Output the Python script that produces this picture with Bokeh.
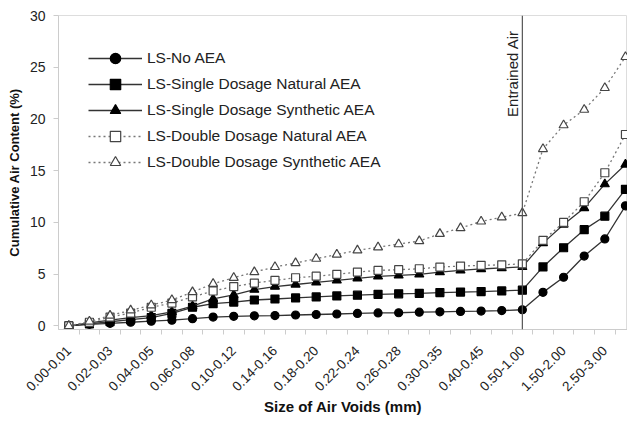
import math
from bokeh.plotting import figure
from bokeh.models import Range1d, FixedTicker, Span, Legend, LegendItem, Label
from bokeh.embed import file_html
from bokeh.resources import INLINE

categories = ["0.00-0.01", "0.01-0.02", "0.02-0.03", "0.03-0.04", "0.04-0.05", "0.05-0.06",
              "0.06-0.08", "0.08-0.10", "0.10-0.12", "0.12-0.14", "0.14-0.16", "0.16-0.18",
              "0.18-0.20", "0.20-0.22", "0.22-0.24", "0.24-0.26", "0.26-0.28", "0.28-0.30",
              "0.30-0.35", "0.35-0.40", "0.40-0.45", "0.45-0.50", "0.50-1.00", "1.00-1.50",
              "1.50-2.00", "2.00-2.50", "2.50-3.00", "3.00-4.00"]

no_aea = [0, 0.15, 0.25, 0.35, 0.45, 0.55, 0.7, 0.85, 0.92, 0.97, 1.0, 1.05, 1.1, 1.15,
          1.2, 1.25, 1.27, 1.32, 1.36, 1.4, 1.43, 1.48, 1.56, 3.24, 4.7, 6.75, 8.4, 11.6]
single_natural = [0, 0.2, 0.4, 0.6, 0.8, 1.2, 1.8, 2.15, 2.3, 2.5, 2.6, 2.7, 2.8, 2.9,
                  2.97, 3.05, 3.1, 3.15, 3.22, 3.27, 3.32, 3.38, 3.45, 5.7, 7.55, 9.3, 10.6, 13.2]
single_synthetic = [0, 0.3, 0.55, 0.8, 1.0, 1.35, 1.9, 2.6, 3.0, 3.5, 3.8, 4.0, 4.2, 4.4,
                    4.6, 4.78, 4.88, 4.98, 5.2, 5.36, 5.5, 5.6, 5.7, 8.0, 9.8, 11.4, 13.7, 15.6]
double_natural = [0, 0.35, 0.85, 1.24, 1.8, 2.2, 2.8, 3.37, 3.8, 4.14, 4.4, 4.65, 4.8, 4.98,
                  5.2, 5.36, 5.43, 5.52, 5.68, 5.78, 5.85, 5.9, 6.0, 8.26, 10.0, 12.0, 14.8, 18.5]
double_synthetic = [0, 0.43, 1.0, 1.5, 2.0, 2.5, 3.27, 4.07, 4.65, 5.2, 5.7, 6.07, 6.5, 6.9,
                    7.3, 7.6, 7.9, 8.2, 8.9, 9.45, 10.1, 10.5, 10.9, 17.1, 19.4, 20.9, 23.0, 26.0]

series_names = ["LS-No AEA", "LS-Single Dosage Natural AEA", "LS-Single Dosage Synthetic AEA",
                "LS-Double Dosage Natural AEA", "LS-Double Dosage Synthetic AEA"]
marker_label = "Entrained Air"
marker_category = "0.50-1.00"
y_ticks = [0, 5, 10, 15, 20, 25, 30]

FONT = "Liberation Sans"
xs = list(range(len(categories)))

p = figure(width=627, height=421, output_backend="svg", toolbar_location=None,
           x_range=Range1d(-0.5, len(categories) - 0.9), y_range=Range1d(-0.35, 30),
           min_border_left=58, min_border_right=0, min_border_top=15, min_border_bottom=92)
p.outline_line_color = "#dddddd"
p.xgrid.visible = False
p.ygrid.visible = False
p.background_fill_color = "white"

# axes
p.xaxis.ticker = FixedTicker(ticks=xs[::2], minor_ticks=[i + 0.5 for i in xs])
p.xaxis.major_label_overrides = {i: categories[i] for i in xs[::2]}
p.xaxis.major_label_orientation = math.pi / 4
p.xaxis.major_tick_out = 0
p.xaxis.major_tick_in = 0
p.xaxis.minor_tick_out = 5
p.xaxis.minor_tick_in = 0
p.xaxis.minor_tick_line_color = "#cccccc"
p.xaxis.axis_line_color = "#cccccc"
p.xaxis.major_label_text_font = FONT
p.xaxis.major_label_text_font_size = "13.5px"
p.xaxis.major_label_text_color = "#222222"
p.xaxis.major_label_standoff = 14
p.xaxis.axis_label = "Size of Air Voids (mm)"
p.xaxis.axis_label_text_font = FONT
p.xaxis.axis_label_text_font_style = "bold"
p.xaxis.axis_label_text_font_size = "15px"
p.xaxis.axis_label_text_color = "#111111"
p.xaxis.axis_label_standoff = 0

p.yaxis.ticker = FixedTicker(ticks=y_ticks)
p.yaxis.minor_tick_line_color = None
p.yaxis.major_tick_out = 5
p.yaxis.major_tick_in = 0
p.yaxis.major_tick_line_color = "#cccccc"
p.yaxis.axis_line_color = "#cccccc"
p.yaxis.major_label_text_font = FONT
p.yaxis.major_label_text_font_size = "14px"
p.yaxis.major_label_text_color = "#222222"
p.yaxis.major_label_standoff = 8
p.yaxis.axis_label = "Cumulative Air Content (%)"
p.yaxis.axis_label_text_font = FONT
p.yaxis.axis_label_text_font_style = "bold"
p.yaxis.axis_label_text_font_size = "13px"
p.yaxis.axis_label_text_color = "#111111"
p.yaxis.axis_label_standoff = 5

# entrained air marker line
mx = categories.index(marker_category)
p.add_layout(Span(location=mx, dimension="height", line_color="#555555", line_width=1.2))
p.add_layout(Label(x=mx, y=20.2, text=marker_label, angle=math.pi / 2,
                   text_align="left", text_baseline="alphabetic", x_offset=-10,
                   text_font=FONT, text_font_size="15px", text_color="#222222"))

styles = [
    (no_aea, "circle", "black", "black", None, "#333333", 8),
    (single_natural, "square", "black", "black", None, "#333333", 8),
    (single_synthetic, "triangle", "black", "black", None, "#333333", 9),
    (double_natural, "square", "white", "#444444", "2 3", "#777777", 8),
    (double_synthetic, "triangle", "white", "#444444", "2 3", "#777777", 9),
]

items = []
for name, (vals, marker, fill, lc, dash, linec, size) in zip(series_names, styles):
    kw = dict(line_color=linec, line_width=1.3)
    if dash:
        kw["line_dash"] = dash
    r1 = p.line(xs, vals, **kw)
    r2 = p.scatter(xs, vals, marker=marker, size=size, fill_color=fill,
                   line_color=lc, line_width=1.2)
    items.append(LegendItem(label=name, renderers=[r1, r2]))

legend = Legend(items=items, location="top_left", margin=30, padding=0,
                border_line_color=None, background_fill_alpha=0,
                glyph_width=54, glyph_height=26, label_height=26, spacing=0,
                label_standoff=5, label_text_font=FONT, label_text_font_size="15.5px",
                label_text_color="#222222")
p.add_layout(legend)

open("out.html", "w").write(file_html(p, INLINE))
